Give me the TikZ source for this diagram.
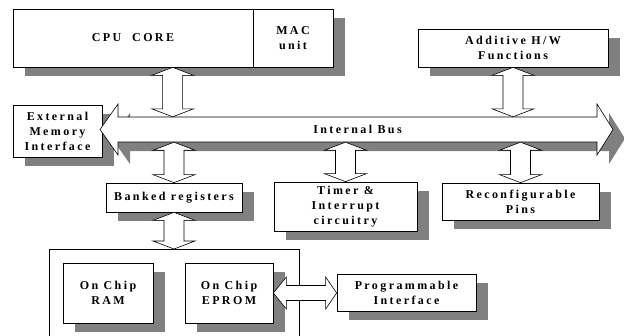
\documentclass[tikz,border=0pt]{standalone}
\usepackage{fontspec}
\setmainfont{Liberation Serif}
\newfontfamily\blkfont[LetterSpace=20]{Liberation Serif}
\usetikzlibrary{calc}
\definecolor{shadowGray}{gray}{0.5}

% hollow double arrows: #1 upper/left end, #2 lower/right end
\newcommand\vlink[2]{%
  \draw[link] let \p1=(#1), \p2=(#2) in
    (\x1,\y1) -- (\x1+21pt,\y1-8pt) -- (\x1+10pt,\y1-8pt) -- (\x1+10pt,\y2+8pt)
    -- (\x1+21pt,\y2+8pt) -- (\x1,\y2) -- (\x1-21pt,\y2+8pt) -- (\x1-10pt,\y2+8pt)
    -- (\x1-10pt,\y1-8pt) -- (\x1-21pt,\y1-8pt) -- cycle;}
\newcommand\hlink[2]{%
  \draw[link] let \p1=(#1), \p2=(#2) in
    (\x1,\y1) -- (\x1+13pt,\y1+16pt) -- (\x1+13pt,\y1+7.5pt) -- (\x2-11pt,\y1+7.5pt)
    -- (\x2-11pt,\y1+16pt) -- (\x2,\y1) -- (\x2-11pt,\y1-16pt) -- (\x2-11pt,\y1-7.5pt)
    -- (\x1+13pt,\y1-7.5pt) -- (\x1+13pt,\y1-16pt) -- cycle;}

\begin{document}
\begin{tikzpicture}[x=1pt,y=1pt,
  font=\blkfont\bfseries\fontsize{12}{15}\selectfont,
  blk/.style={draw,line width=0.7pt,fill=white,align=center,inner sep=0pt},
  link/.style={draw,line width=0.6pt,fill=white,line join=miter}]
  \useasboundingbox (0,0) rectangle (624,-335);
  % drop shadows
  \fill[shadowGray] (25,-18) rectangle (345,-76);
  \fill[shadowGray] (430,-38) rectangle (620,-76);
  \fill[shadowGray] (25,-114) rectangle (114,-166);
  \fill[shadowGray] (130,-126) -- (130,-113) -- (112,-138.5) -- (130,-164) -- (130,-151)
    -- (609,-151) -- (609,-164) -- (625,-138.5) -- (609,-113) -- (609,-126) -- cycle;
  \fill[shadowGray] (118,-192) rectangle (254,-221);
  \fill[shadowGray] (286,-191) rectangle (429,-240);
  \fill[shadowGray] (454,-192) rectangle (611,-229);
  \fill[shadowGray] (75,-272) rectangle (165,-332);
  \fill[shadowGray] (197,-272) rectangle (285,-332);
  \fill[shadowGray] (349,-283) rectangle (488,-320);
  % processor
  \node[blk,minimum width=240pt,minimum height=58pt] (cpu) at (133,-38) {CPU\ \ CORE};
  \node[blk,minimum width=80pt,minimum height=58pt] (mac) at (293,-38) {MAC\\unit};
  \node[blk,minimum width=190pt,minimum height=38pt] (add) at (513,-48)
       {\fontsize{12}{22}\selectfont Additive H/W\\Functions};
  \node[blk,minimum width=89pt,minimum height=52pt] (emi) at (57.5,-131)
       {External\\Memory\\Interface};
  % internal bus
  \draw[link] (118,-117) -- (118,-104) -- (100,-129.5) -- (118,-155)
      -- (118,-142) -- (597,-142) -- (597,-155) -- (613,-129.5) -- (597,-104)
      -- (597,-117) -- cycle;
  \node[inner sep=0pt,minimum width=479pt,minimum height=25pt] (bus) at (357.5,-129.5)
       {Internal Bus};
  % peripherals
  \node[blk,minimum width=136pt,minimum height=29pt] (banked) at (174,-197.5) {Banked registers};
  \node[blk,minimum width=143pt,minimum height=49pt] (timer) at (345.5,-206.5)
       {Timer \&\\Interrupt\\circuitry};
  \node[blk,minimum width=157pt,minimum height=37pt] (pins) at (520.5,-201.5)
       {Reconfigurable\\Pins};
  \node[draw,line width=0.6pt,minimum width=250pt,minimum height=100pt,anchor=north west]
       (chip) at (49,-249) {};
  \node[blk,minimum width=90pt,minimum height=60pt] (ram) at (108,-293) {On Chip\\RAM};
  \node[blk,minimum width=88pt,minimum height=60pt] (eprom) at (229,-293) {On Chip\\EPROM};
  \node[blk,minimum width=139pt,minimum height=37pt] (prog) at (406.5,-292.5)
       {Programmable\\Interface};
  % links
  \vlink{$(cpu.south west)+(160pt,0)$}{bus.north}
  \vlink{add.south}{bus.north}
  \vlink{banked.north |- bus.south}{banked.north}
  \vlink{timer.north |- bus.south}{timer.north}
  \vlink{pins.north |- bus.south}{pins.north}
  \vlink{banked.south}{chip.north}
  \hlink{eprom.east}{prog.west}
\end{tikzpicture}
\end{document}
